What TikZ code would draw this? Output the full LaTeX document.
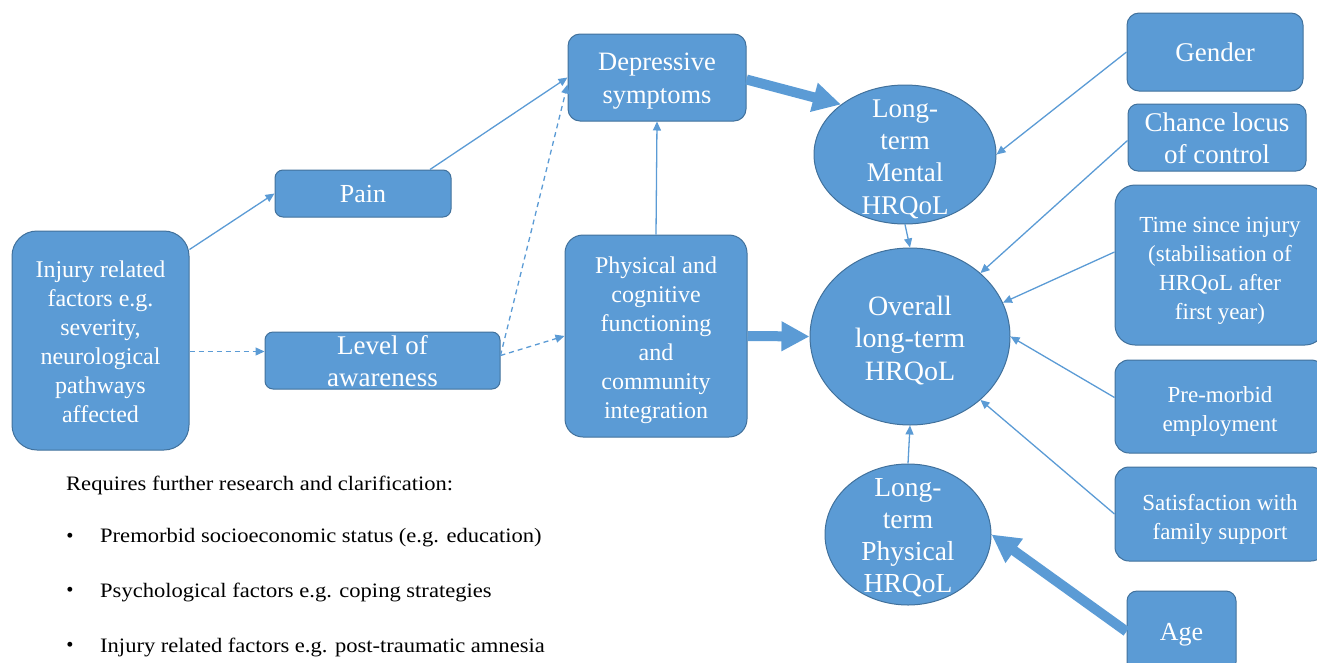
\documentclass[tikz,border=0pt]{standalone}
\usepackage{fontspec}
\setmainfont{Liberation Serif}
\usetikzlibrary{arrows.meta,shapes.geometric}
\definecolor{fillb}{HTML}{5B9BD5}
\definecolor{edgeb}{HTML}{41719C}
\begin{document}
\begin{tikzpicture}[x=1pt,y=-1pt,
  box/.style={draw=edgeb,line width=1pt,fill=fillb,rounded corners=11pt,inner sep=0pt},
  ell/.style={ellipse,draw=edgeb,line width=1pt,fill=fillb,inner sep=0pt},
  txt/.style={text=white,align=center,inner sep=0pt},
  thinarr/.style={draw=fillb,line width=1.3pt,-{Triangle[length=9pt,width=8pt]}},
  dsharr/.style={draw=fillb,line width=1.3pt,dash pattern=on 5pt off 4pt,-{Triangle[length=9pt,width=8pt]}},
  fatarr/.style={draw=fillb,line width=10pt,-{Triangle[length=28pt,width=28pt]}},
  plain/.style={text=black,inner sep=0pt,font=\fontsize{20.5}{24}\selectfont}
]
\useasboundingbox (0,0) rectangle (1317,662);
\clip (0,0) rectangle (1317,662);

% shapes
\node[box,rounded corners=25pt,minimum width=177pt,minimum height=219pt] (injury) at (100.5,340.5) {};
\node[box,rounded corners=8pt,minimum width=176pt,minimum height=47pt] (pain) at (363,193.5) {};
\node[box,rounded corners=8pt,minimum width=235pt,minimum height=57pt] (level) at (382.5,360.5) {};
\node[box,rounded corners=12pt,minimum width=178pt,minimum height=87pt] (depr) at (657,77.5) {};
\node[box,rounded corners=18pt,minimum width=182pt,minimum height=202pt] (phys) at (656,336) {};
\node[ell,minimum width=182pt,minimum height=139pt] (mental) at (905,154.5) {};
\node[ell,minimum width=200pt,minimum height=177pt] (overall) at (910,336.5) {};
\node[ell,minimum width=166pt,minimum height=141pt] (physe) at (908,534.5) {};
\node[box,rounded corners=12pt,minimum width=176pt,minimum height=78pt] (gender) at (1215,52) {};
\node[box,rounded corners=10pt,minimum width=178pt,minimum height=67pt] (chance) at (1217,137.5) {};
\node[box,rounded corners=20pt,minimum width=210pt,minimum height=160pt] (time) at (1220,265) {};
\node[box,rounded corners=14pt,minimum width=210pt,minimum height=93pt] (premorb) at (1220,406.5) {};
\node[box,rounded corners=14pt,minimum width=210pt,minimum height=94pt] (satis) at (1220,514) {};
\node[box,rounded corners=10pt,minimum width=109pt,minimum height=81pt] (age) at (1181.5,631.5) {};

% texts
\node[txt,font=\fontsize{24}{29}\selectfont] (injuryt) at ([yshift=-1pt]injury.center)
  {Injury related\\factors e.g.\\severity,\\neurological\\pathways\\affected};
\node[txt,font=\fontsize{26}{31}\selectfont] (paint) at ([yshift=-1pt]pain.center) {Pain};
\node[txt,font=\fontsize{27}{32}\selectfont] (levelt) at ([yshift=-1pt]level.center) {Level of\\awareness};
\node[txt,font=\fontsize{26.5}{33}\selectfont] (deprt) at ([yshift=-4pt]depr.center) {Depressive\\symptoms};
\node[txt,font=\fontsize{24}{29}\selectfont] (physt) at ([yshift=-4.5pt]phys.center)
  {Physical and\\cognitive\\functioning\\and\\community\\integration};
\node[txt,font=\fontsize{27}{32.3}\selectfont] (mentalt) at ([yshift=-4.5pt]mental.center) {Long-\\term\\Mental\\HRQoL};
\node[txt,font=\fontsize{28}{32.5}\selectfont] (overallt) at ([yshift=-4pt]overall.center) {Overall\\long-term\\HRQoL};
\node[txt,font=\fontsize{27.5}{32}\selectfont] (physet) at ([yshift=-3.5pt]physe.center) {Long-\\term\\Physical\\HRQoL};
\node[txt,font=\fontsize{27}{32}\selectfont] (gendert) at (gender.center) {Gender};
\node[txt,font=\fontsize{27}{32}\selectfont] (chancet) at ([yshift=-1pt]chance.center) {Chance locus\\of control};
\node[txt,font=\fontsize{23}{29}\selectfont] (timet) at ([yshift=-5.5pt]time.center)
  {Time since injury\\(stabilisation of\\HRQoL after\\first year)};
\node[txt,font=\fontsize{23}{29}\selectfont] (premorbt) at ([yshift=-4.5pt]premorb.center) {Pre-morbid\\employment};
\node[txt,font=\fontsize{23}{29}\selectfont] (satist) at ([yshift=-5pt]satis.center) {Satisfaction with\\family support};
\node[txt,font=\fontsize{26}{31}\selectfont] (aget) at ([yshift=-3pt]age.center) {Age};

% note
\node[plain,anchor=west] (req) at (66,485) {\scalebox{1.1}[1]{Requires further research and clarification:}};
\node[plain] (d1) at (70,538) {•};
\node[plain,anchor=west] (t1) at (100,538) {\scalebox{1.1}[1]{Premorbid socioeconomic status (e.g. education)}};
\node[plain] (d2) at (70,592) {•};
\node[plain,anchor=west] (t2) at (100,592) {\scalebox{1.1}[1]{Psychological factors e.g. coping strategies}};
\node[plain] (d3) at (70,647) {•};
\node[plain,anchor=west] (t3) at (100,647) {\scalebox{1.1}[1]{Injury related factors e.g. post-traumatic amnesia}};

% connectors
\draw[thinarr] ([yshift=-19pt]injury.north east) -- (pain.west);
\coordinate (lw) at ([yshift=9pt]level.west);
\draw[dsharr] (injury.east |- lw) -- (lw);
\draw[thinarr] ([xshift=67pt]pain.north) -- (depr.west);
\coordinate (le) at ([yshift=5pt]level.east);
\draw[dsharr] (le) -- ([yshift=-7pt]depr.west);
\draw[dsharr] (le) -- (phys.west);
\draw[thinarr] (phys.north) -- (depr.south);
\draw[fatarr] ([yshift=-2pt]depr.east) -- (mental.142);
\draw[fatarr] (phys.east) -- (overall.west);
\draw[thinarr] (mental.south) -- (overall.north);
\draw[thinarr] (physe.north) -- (overall.south);
\draw[thinarr] (gender.west) -- (mental.east);
\draw[thinarr] ([yshift=-3pt]chance.west) -- (overall.42);
\draw[thinarr] ([yshift=13pt]time.west) -- (overall.20);
\draw[thinarr] ([yshift=9pt]premorb.west) -- (overall.0);
\draw[thinarr] (satis.west) -- (overall.-42);
\draw[fatarr] (age.west) -- (physe.east);
\end{tikzpicture}
\end{document}
